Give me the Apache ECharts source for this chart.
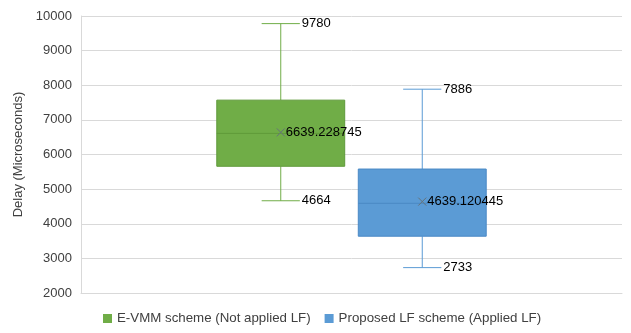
<!DOCTYPE html>
<html>
<head>
<meta charset="utf-8">
<script src="https://cdn.jsdelivr.net/npm/echarts@6/dist/echarts.min.js"></script>
<style>
  html, body { margin: 0; padding: 0; background: #fff; }
  #chart { width: 631px; height: 333px; }
</style>
</head>
<body>
<div id="chart"></div>
<script>
  var seriesNames = ['E-VMM scheme (Not applied LF)', 'Proposed LF scheme (Applied LF)']
  // [min, Q1, median, Q3, max, mean]
  var evmmStats = [4664, 5660, 6610, 7570, 9780, 6639.228745]
  var proposedStats = [2733, 3640, 4590, 5580, 7886, 4639.120445]
  var yMin = 2000
  var yMax = 10000
  var yStep = 1000

  var fills = ['#70ad47', '#5b9bd5']
  var strokes = ['#5f9a3a', '#4a89c5']
  var font = '"Liberation Sans", Arial, sans-serif'

  // box + whiskers + mean marker, everything placed through api.coord / api.size
  function makeRender(idx) {
    return function(params, api) {
      var c = api.value(0)
      var yOf = function(dim) { return api.coord([c, api.value(dim)])[1] }
      var x = api.coord([c, api.value(1)])[0]
      var band = api.size([1, 0])[0]
      var half = band * 0.452
      var cap = band * 0.135
      var pMin = yOf(1), pQ1 = yOf(2), pMed = yOf(3), pQ3 = yOf(4), pMax = yOf(5), pMean = yOf(6)
      var ln = { stroke: fills[idx], lineWidth: 1 }
      var txt = function(v, tx, ty) {
        return {
          type: 'text', z2: 10,
          style: { text: String(v), x: tx, y: ty, fill: '#000', font: '13px ' + font, align: 'left', verticalAlign: 'middle' }
        }
      }
      var m = 4
      var mk = { stroke: '#66737a', lineWidth: 1 }
      return {
        type: 'group',
        children: [
          { type: 'line', shape: { x1: x, y1: pMax, x2: x, y2: pQ3 }, style: ln },
          { type: 'line', shape: { x1: x, y1: pQ1, x2: x, y2: pMin }, style: ln },
          { type: 'line', shape: { x1: x - cap, y1: pMax, x2: x + cap, y2: pMax }, style: ln },
          { type: 'line', shape: { x1: x - cap, y1: pMin, x2: x + cap, y2: pMin }, style: ln },
          { type: 'rect', shape: { x: x - half, y: pQ3, width: half * 2, height: pQ1 - pQ3 },
            style: { fill: fills[idx], stroke: strokes[idx], lineWidth: 1 } },
          { type: 'line', z2: 5, shape: { x1: x - half, y1: pMed, x2: x + half, y2: pMed }, style: { stroke: strokes[idx], lineWidth: 1 } },
          { type: 'line', z2: 6, shape: { x1: x - m, y1: pMean - m, x2: x + m, y2: pMean + m }, style: mk },
          { type: 'line', z2: 6, shape: { x1: x - m, y1: pMean + m, x2: x + m, y2: pMean - m }, style: mk },
          txt(api.value(5), x + cap + 2, pMax),
          txt(api.value(1), x + cap + 2, pMin),
          txt(api.value(6), x + m + 1, pMean)
        ]
      }
    }
  }

  var chart = echarts.init(document.getElementById('chart'))
  var yBase = { type: 'value', min: yMin, max: yMax, interval: yStep }

  chart.setOption({
    animation: false,
    textStyle: { fontFamily: font },
    legend: {
      data: seriesNames,
      bottom: 3,
      left: 98,
      icon: 'rect',
      itemWidth: 9,
      itemHeight: 9,
      itemGap: 14,
      textStyle: { fontSize: 13.3, color: '#404040' }
    },
    grid: [
      { left: 81, right: 9, top: 16, bottom: 40 },
      { left: 210, width: 283, top: 16, bottom: 40 }
    ],
    xAxis: [
      { type: 'category', gridIndex: 0, data: [''],
        axisLine: { lineStyle: { color: '#d9d9d9' } }, axisTick: { show: false }, axisLabel: { show: false } },
      { type: 'category', gridIndex: 1, data: seriesNames, show: false }
    ],
    yAxis: [
      Object.assign({}, yBase, {
        gridIndex: 0,
        name: 'Delay (Microseconds)',
        nameLocation: 'middle',
        nameGap: 56,
        nameTextStyle: { fontSize: 13, color: '#404040' },
        axisLine: { show: true, lineStyle: { color: '#d9d9d9' } },
        axisTick: { show: false },
        axisLabel: { fontSize: 13, color: '#404040', margin: 9, formatter: function(v) { return String(v) } },
        splitLine: { lineStyle: { color: '#d9d9d9' } }
      }),
      Object.assign({}, yBase, { gridIndex: 1, show: false, splitLine: { show: false } })
    ],
    series: [evmmStats, proposedStats].map(function(stats, i) {
      return {
        name: seriesNames[i],
        type: 'custom',
        xAxisIndex: 1,
        yAxisIndex: 1,
        itemStyle: { color: fills[i] },
        renderItem: makeRender(i),
        encode: { x: 0, y: [1, 2, 3, 4, 5] },
        data: [[seriesNames[i]].concat(stats)]
      }
    })
  })
</script>
</body>
</html>
